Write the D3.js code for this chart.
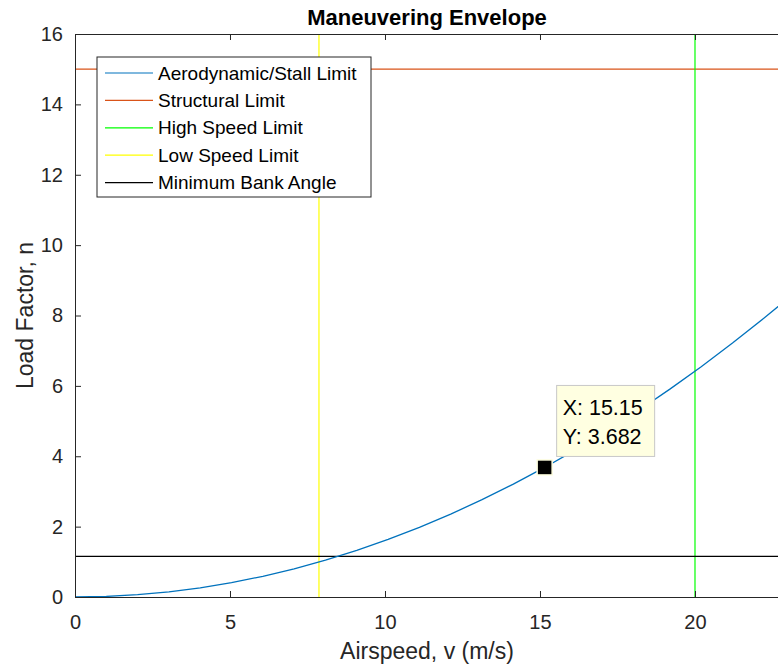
<!DOCTYPE html>
<html>
<head>
<meta charset="utf-8">
<script src="https://cdn.jsdelivr.net/npm/d3@7"></script>
<style>
    body { margin: 0; background: #fff; }
    svg { display: block; font-family: "Liberation Sans", Arial, Helvetica, sans-serif; }
</style>
</head>
<body>
<div id="chart"></div>
<script>
// Aerodynamic/stall limit curve
const airspeed = [0, 1.01, 2.02, 3.03, 4.04, 5.05, 6.06, 7.07, 8.08, 9.09, 10.10, 11.11,
    12.12, 13.13, 14.14, 15.15, 16.16, 17.17, 18.18, 19.19, 20.20, 21.21, 22.22, 23.23];
const loadFactor = [0, 0.016, 0.065, 0.147, 0.262, 0.409, 0.589, 0.802, 1.047, 1.325, 1.636, 1.980,
    2.356, 2.765, 3.207, 3.682, 4.189, 4.729, 5.301, 5.907, 6.545, 7.216, 7.920, 8.656];

const structuralLimit = 15;
const highSpeedLimit = 20;
const lowSpeedLimit = 7.87;
const minBankLoad = 1.155;

const xTicks = [0, 5, 10, 15, 20];
const yTicks = [0, 2, 4, 6, 8, 10, 12, 14, 16];
const xDomain = [0, 22.71];
const yDomain = [0, 16];

const datatip = { x: 15.15, y: 3.682 };

const legendItems = [
    { label: 'Aerodynamic/Stall Limit', color: '#0072BD' },
    { label: 'Structural Limit', color: '#D95319' },
    { label: 'High Speed Limit', color: '#00FF00' },
    { label: 'Low Speed Limit', color: '#FFFF00' },
    { label: 'Minimum Bank Angle', color: '#000000' }
];

const W = 778, H = 669;
const margin = { top: 34, right: -1, bottom: 72, left: 75 };
const axisColor = '#262626';

const svg = d3.select('#chart').append('svg')
    .attr('width', W).attr('height', H);

const x = d3.scaleLinear().domain(xDomain).range([margin.left, W - margin.right]);
const y = d3.scaleLinear().domain(yDomain).range([H - margin.bottom, margin.top]);

svg.append('clipPath').attr('id', 'plot-clip')
    .append('rect')
    .attr('x', x(xDomain[0])).attr('y', y(yDomain[1]))
    .attr('width', x(xDomain[1]) - x(xDomain[0]))
    .attr('height', y(yDomain[0]) - y(yDomain[1]));

const plot = svg.append('g').attr('clip-path', 'url(#plot-clip)');

// limit lines
plot.append('line')
    .attr('x1', x(xDomain[0])).attr('x2', x(xDomain[1]))
    .attr('y1', y(structuralLimit)).attr('y2', y(structuralLimit))
    .attr('stroke', legendItems[1].color).attr('stroke-width', 1.2);

plot.append('line')
    .attr('x1', x(highSpeedLimit)).attr('x2', x(highSpeedLimit))
    .attr('y1', y(yDomain[0])).attr('y2', y(yDomain[1]))
    .attr('stroke', legendItems[2].color).attr('stroke-width', 1.2);

plot.append('line')
    .attr('x1', x(lowSpeedLimit)).attr('x2', x(lowSpeedLimit))
    .attr('y1', y(yDomain[0])).attr('y2', y(yDomain[1]))
    .attr('stroke', legendItems[3].color).attr('stroke-width', 1.2);

plot.append('line')
    .attr('x1', x(xDomain[0])).attr('x2', x(xDomain[1]))
    .attr('y1', y(minBankLoad)).attr('y2', y(minBankLoad))
    .attr('stroke', legendItems[4].color).attr('stroke-width', 1.2);

const curve = airspeed.map((v, i) => [v, loadFactor[i]]);
plot.append('path')
    .datum(curve)
    .attr('fill', 'none')
    .attr('stroke', legendItems[0].color)
    .attr('stroke-width', 1.3)
    .attr('d', d3.line().x(d => x(d[0])).y(d => y(d[1])));

// axes (MATLAB style: ticks inside, labels outside)
const xAxis = svg.append('g')
    .attr('transform', `translate(0,${y(yDomain[0])})`)
    .call(d3.axisBottom(x).tickValues(xTicks).tickSize(-6).tickPadding(18).tickSizeOuter(0));
const xAxisTop = svg.append('g')
    .attr('transform', `translate(0,${y(yDomain[1])})`)
    .call(d3.axisTop(x).tickValues(xTicks).tickSize(-6).tickFormat('').tickSizeOuter(0));
const yAxis = svg.append('g')
    .attr('transform', `translate(${x(xDomain[0])},0)`)
    .call(d3.axisLeft(y).tickValues(yTicks).tickSize(-6).tickPadding(12).tickSizeOuter(0));

[xAxis, xAxisTop, yAxis].forEach(g => {
    g.selectAll('.domain').attr('stroke', axisColor).attr('stroke-width', 1);
    g.selectAll('.tick line').attr('stroke', axisColor);
    g.selectAll('.tick text').attr('fill', axisColor).style('font-size', '20px');
});

// titles
svg.append('text')
    .attr('x', (x(xDomain[0]) + x(xDomain[1])) / 2).attr('y', 25)
    .attr('text-anchor', 'middle')
    .style('font-size', '22px').style('font-weight', 'bold')
    .attr('fill', '#000')
    .text('Maneuvering Envelope');

svg.append('text')
    .attr('x', (x(xDomain[0]) + x(xDomain[1])) / 2).attr('y', 659)
    .attr('text-anchor', 'middle')
    .style('font-size', '23px')
    .attr('fill', axisColor)
    .text('Airspeed, v (m/s)');

svg.append('text')
    .attr('transform', `translate(33,${(y(yDomain[0]) + y(yDomain[1])) / 2}) rotate(-90)`)
    .attr('text-anchor', 'middle')
    .style('font-size', '23px')
    .attr('fill', axisColor)
    .text('Load Factor, n');

// legend
const legend = svg.append('g').attr('transform', 'translate(97,57)');
legend.append('rect')
    .attr('width', 274).attr('height', 140)
    .attr('fill', '#fff').attr('stroke', axisColor).attr('stroke-width', 1);
legendItems.forEach((item, i) => {
    const cy = 16 + i * 27.4;
    legend.append('line')
        .attr('x1', 8).attr('x2', 56).attr('y1', cy).attr('y2', cy)
        .attr('stroke', item.color).attr('stroke-width', 1.2);
    legend.append('text')
        .attr('x', 61).attr('y', cy).attr('dy', '0.35em')
        .style('font-size', '19px').attr('fill', '#000')
        .text(item.label);
});

// datatip
const tipX = x(datatip.x), tipY = y(datatip.y);
svg.append('rect')
    .attr('x', tipX - 7.5).attr('y', tipY - 7.5)
    .attr('width', 15).attr('height', 15)
    .attr('fill', '#000').attr('stroke', '#ffffe1').attr('stroke-width', 1.5);

const tip = svg.append('g').attr('transform', `translate(${tipX + 12},${tipY - 82})`);
tip.append('rect')
    .attr('width', 98).attr('height', 71)
    .attr('fill', '#ffffe1').attr('stroke', '#c8c8c8').attr('stroke-width', 1);
tip.append('text').attr('x', 6).attr('y', 30)
    .style('font-size', '21.5px').attr('fill', '#000')
    .text(`X: ${datatip.x}`);
tip.append('text').attr('x', 6).attr('y', 59)
    .style('font-size', '21.5px').attr('fill', '#000')
    .text(`Y: ${datatip.y}`);
</script>
</body>
</html>
